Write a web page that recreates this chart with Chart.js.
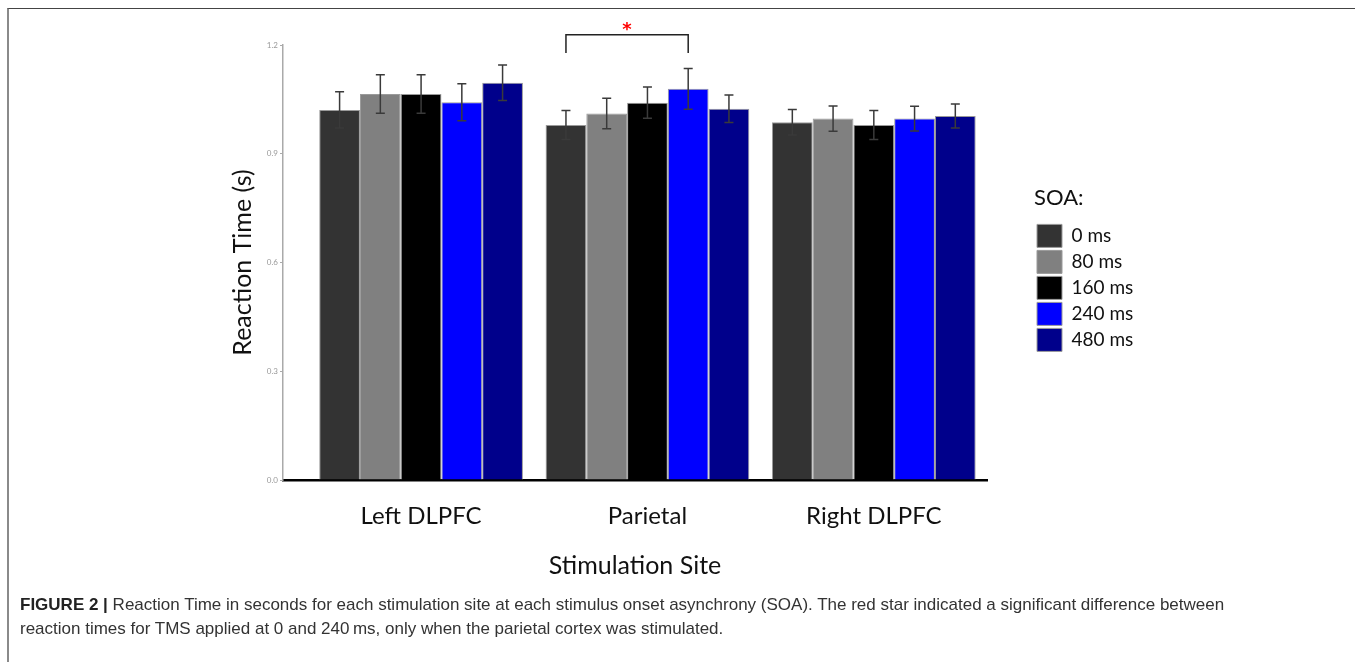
<!DOCTYPE html>
<html>
<head>
<meta charset="utf-8">
<script src="https://cdn.jsdelivr.net/npm/chart.js@4.4.1/dist/chart.umd.min.js"></script>
<style>
  html, body { margin: 0; padding: 0; background: #fff; }
  body { width: 1355px; height: 662px; position: relative; overflow: hidden; }
  #frame { position: absolute; left: 7px; top: 8px; right: 0; bottom: 0; border-top: 1px solid #444; border-left: 2px solid #8a8a8a; }
  #chart { position: absolute; left: 0; top: 0; }
  #caption { position: absolute; left: 20px; top: 593px; font: 17px "Liberation Sans", Arial, sans-serif; line-height: 24px; color: #333; white-space: nowrap; }
  #caption b { color: #222; }
</style>
</head>
<body>
<div id="frame"></div>
<canvas id="chart" width="1355" height="662"></canvas>
<div id="caption"><b>FIGURE 2 |</b> Reaction Time in seconds for each stimulation site at each stimulus onset asynchrony (SOA). The red star indicated a significant difference between<br>reaction times for TMS applied at 0 and 240&thinsp;ms, only when the parietal cortex was stimulated.</div>
<script>
// données
const sites = ['Left DLPFC', 'Parietal', 'Right DLPFC'];
const soaLabels = ['0 ms', '80 ms', '160 ms', '240 ms', '480 ms'];
const soaColors = ['#333333', '#808080', '#000000', '#0000ff', '#00008b'];

// temps de réaction moyens (s), un tableau par SOA, dans l'ordre des sites
const rt0 = [1.021, 0.979, 0.987];
const rt80 = [1.065, 1.011, 0.997];
const rt160 = [1.065, 1.041, 0.979];
const rt240 = [1.042, 1.079, 0.997];
const rt480 = [1.096, 1.024, 1.004];

// erreurs standard
const se0 = [0.050, 0.040, 0.035];
const se80 = [0.053, 0.042, 0.035];
const se160 = [0.053, 0.043, 0.040];
const se240 = [0.051, 0.056, 0.034];
const se480 = [0.049, 0.038, 0.033];

const yTicks = [0, 0.3, 0.6, 0.9, 1.2];

// crochet de significativité : Parietal, 0 ms vs 240 ms
const sigSite = 1;
const sigPair = [0, 3];
const sigLevel = [1.178, 1.228];
const sigStarLevel = 1.24;

const means = [rt0, rt80, rt160, rt240, rt480];
const errs = [se0, se80, se160, se240, se480];

Chart.defaults.font.family = 'Lato';

const datasets = soaLabels.map((lab, i) => ({
    label: lab,
    data: means[i].map((v, k) => ({ x: k + 1, y: v })),
    se: errs[i],
    backgroundColor: soaColors[i],
    borderColor: '#9a9a9a',
    borderWidth: 1
}));

// barres d'erreur
const errorBars = {
    id: 'errorBars',
    afterDatasetsDraw(chart) {
        const ctx = chart.ctx;
        const y = chart.scales.y;
        ctx.save();
        ctx.strokeStyle = '#3a3a3a';
        ctx.lineWidth = 1.5;
        chart.data.datasets.forEach((ds, i) => {
            chart.getDatasetMeta(i).data.forEach((bar, j) => {
                const m = ds.data[j].y, e = ds.se[j];
                const top = y.getPixelForValue(m + e);
                const bot = y.getPixelForValue(m - e);
                ctx.beginPath();
                ctx.moveTo(bar.x, top); ctx.lineTo(bar.x, bot);
                ctx.moveTo(bar.x - 4.5, top); ctx.lineTo(bar.x + 4.5, top);
                ctx.moveTo(bar.x - 4.5, bot); ctx.lineTo(bar.x + 4.5, bot);
                ctx.stroke();
            });
        });
        ctx.restore();
    }
};

// crochet + étoile rouge
const sigBracket = {
    id: 'sigBracket',
    afterDatasetsDraw(chart) {
        const ctx = chart.ctx;
        const y = chart.scales.y;
        const x1 = chart.getDatasetMeta(sigPair[0]).data[sigSite].x;
        const x2 = chart.getDatasetMeta(sigPair[1]).data[sigSite].x;
        const yLow = y.getPixelForValue(sigLevel[0]);
        const yHigh = y.getPixelForValue(sigLevel[1]);
        ctx.save();
        ctx.strokeStyle = '#222';
        ctx.lineWidth = 1.5;
        ctx.beginPath();
        ctx.moveTo(x1, yLow);
        ctx.lineTo(x1, yHigh);
        ctx.lineTo(x2, yHigh);
        ctx.lineTo(x2, yLow);
        ctx.stroke();
        ctx.fillStyle = '#ff0000';
        ctx.font = 'bold 18px "DejaVu Sans"';
        ctx.textAlign = 'center';
        ctx.textBaseline = 'middle';
        ctx.fillText('*', (x1 + x2) / 2, y.getPixelForValue(sigStarLevel));
        ctx.restore();
    }
};

new Chart(document.getElementById('chart'), {
    type: 'bar',
    data: { datasets: datasets },
    options: {
        responsive: false,
        animation: false,
        layout: { padding: { left: 200, top: 45, right: 221, bottom: 0 } },
        plugins: {
            tooltip: { enabled: false },
            legend: {
                position: 'right',
                align: 'start',
                maxWidth: 100,
                title: {
                    display: true,
                    text: 'SOA:',
                    position: 'start',
                    color: '#111',
                    font: { size: 22 },
                    padding: { top: 142, bottom: 8 }
                },
                labels: {
                    boxWidth: 25,
                    boxHeight: 23,
                    padding: 3,
                    color: '#111',
                    font: { size: 19 }
                }
            }
        },
        datasets: {
            bar: { categoryPercentage: 0.9, barPercentage: 1.0, grouped: true }
        },
        scales: {
            x: {
                type: 'linear',
                offset: false,
                min: 0.39,
                max: 3.5,
                afterBuildTicks: s => { s.ticks = sites.map((n, k) => ({ value: k + 1 })); },
                afterFit: s => { s.height = 182; },
                grid: { display: false, drawTicks: false },
                border: { display: true, color: '#000', width: 2.5 },
                ticks: {
                    autoSkip: false,
                    maxRotation: 0,
                    padding: 22,
                    color: '#111',
                    font: { size: 24 },
                    callback: v => sites[v - 1]
                },
                title: {
                    display: true,
                    text: 'Stimulation Site',
                    color: '#111',
                    font: { size: 25 },
                    padding: { top: 0, bottom: 81 }
                }
            },
            y: {
                min: 0,
                max: 1.2,
                afterBuildTicks: s => { s.ticks = yTicks.map(v => ({ value: v })); },
                afterFit: s => { s.width = 83; },
                grid: { drawOnChartArea: false, drawTicks: true, tickLength: 3, color: '#aaa' },
                border: { display: true, color: '#aaa', width: 1.5 },
                ticks: {
                    padding: 2,
                    color: '#999',
                    font: { size: 8 },
                    callback: v => v.toFixed(1)
                },
                title: {
                    display: true,
                    text: 'Reaction Time (s)',
                    color: '#111',
                    font: { size: 25 },
                    padding: { top: 28, bottom: 0 }
                }
            },
            // espace vide entre la zone du graphique et la légende
            gap: {
                position: 'right',
                display: true,
                afterFit: s => { s.width = 47; },
                grid: { display: false, drawTicks: false },
                border: { display: false },
                ticks: { display: false }
            }
        }
    },
    plugins: [errorBars, sigBracket]
});
</script>
</body>
</html>
